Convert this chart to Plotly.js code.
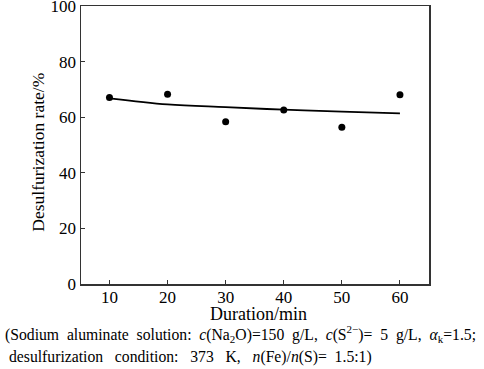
<!DOCTYPE html>
<html>
<head>
<meta charset="utf-8">
<script src="https://cdn.plot.ly/plotly-3.0.1.min.js"></script>
<style>html,body{margin:0;padding:0;background:#fff;}#chart{width:484px;height:369px;}</style>
</head>
<body>
<div id="chart"></div>
<script>
var durations = [10, 20, 30, 40, 50, 60];
var desulfRate = [67.1, 68.3, 58.4, 62.6, 56.4, 68.1];
var fitX = [10, 20, 30, 40, 50, 60];
var fitY = [66.8, 64.6, 63.6, 62.7, 62.0, 61.4];
var xTicks = [10, 20, 30, 40, 50, 60];
var yTicks = [0, 20, 40, 60, 80, 100];
var xTitle = 'Duration/min';
var yTitle = 'Desulfurization rate/%';

var font = '"Liberation Serif", "Times New Roman", serif';
var S = '\u00a0';
var traces = [
  {x: fitX, y: fitY, mode: 'lines', line: {color: '#000', width: 1.8, shape: 'spline', smoothing: 1}, hoverinfo: 'skip'},
  {x: durations, y: desulfRate, mode: 'markers', marker: {color: '#000', size: 7}}
];
var layout = {
  width: 484, height: 369,
  margin: {l: 81, r: 55, t: 6, b: 85},
  showlegend: false,
  paper_bgcolor: '#fff', plot_bgcolor: '#fff',
  font: {family: font, color: '#000', size: 16},
  xaxis: {
    range: [5.1, 65], tickvals: xTicks, ticks: 'inside', ticklen: 4, tickcolor: '#333',
    showline: true, mirror: true, linecolor: '#333', linewidth: 1.5, showgrid: false, zeroline: false,
    tickfont: {family: font, size: 17}, ticklabelstandoff: -3
  },
  yaxis: {
    range: [0, 100], tickvals: yTicks, ticks: 'inside', ticklen: 4, tickcolor: '#333',
    showline: true, mirror: true, linecolor: '#333', linewidth: 1.5, showgrid: false, zeroline: false,
    tickfont: {family: font, size: 17}, ticklabeloverflow: 'allow'
  },
  annotations: [
    {xref: 'paper', yref: 'paper', x: 0.51, y: -0.109, xanchor: 'center', yanchor: 'middle', showarrow: false,
     font: {family: font, size: 18}, text: xTitle},
    {xref: 'paper', yref: 'paper', x: -0.126, y: 0.473, xanchor: 'center', yanchor: 'middle', showarrow: false,
     textangle: -90, font: {family: font, size: 17.5}, text: yTitle},
    {xref: 'paper', yref: 'paper', x: -0.225, y: -0.18, xanchor: 'left', yanchor: 'middle', showarrow: false,
     font: {family: font, size: 15.7},
     text: '(Sodium' + S + ' aluminate' + S + ' solution:' + S + ' <i>c</i>(Na<sub>2</sub>O)=150' + S + ' g/L,' + S + ' <i>c</i>(S<sup>2\u2212</sup>)=' + S + ' 5' + S + ' g/L,' + S + ' <i>\u03b1</i><sub>k</sub>=1.5;'},
    {xref: 'paper', yref: 'paper', x: -0.213, y: -0.263, xanchor: 'left', yanchor: 'middle', showarrow: false,
     font: {family: font, size: 15.7},
     text: 'desulfurization' + S + S + ' condition:' + S + S + ' 373' + S + S + ' K,' + S + S + ' <i>n</i>(Fe)/<i>n</i>(S)=' + S + ' 1.5:1)'}
  ]
};
Plotly.newPlot('chart', traces, layout, {staticPlot: true});
</script>
</body>
</html>
